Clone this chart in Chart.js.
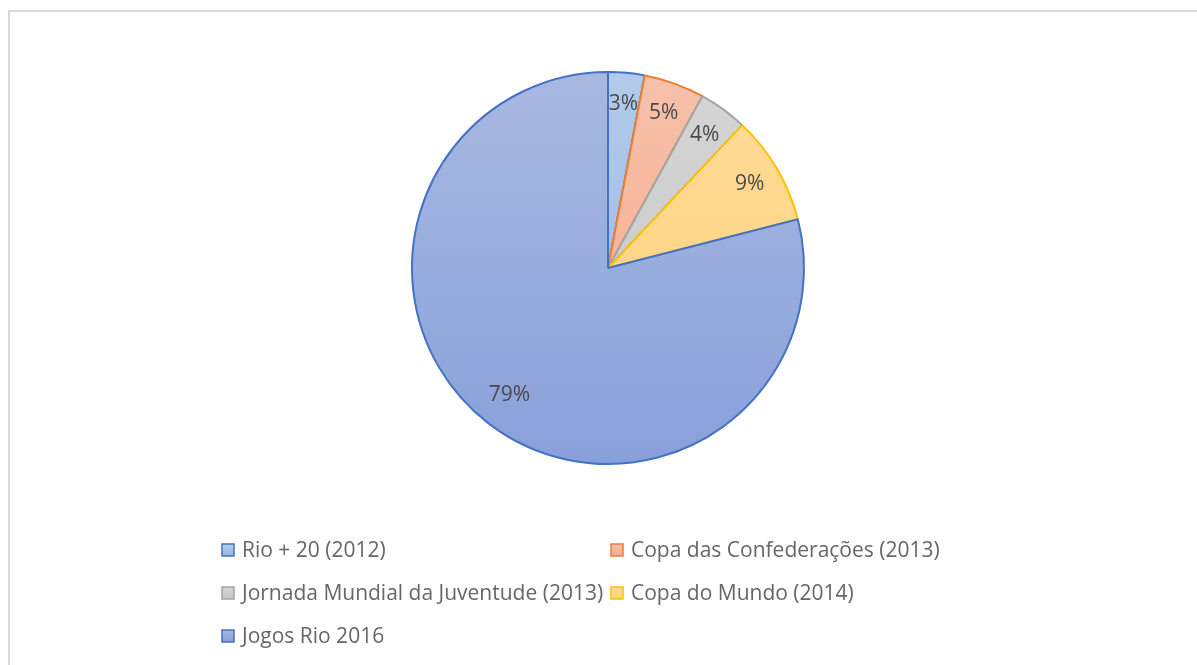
<!DOCTYPE html>
<html>
<head>
<meta charset="utf-8">
<script src="https://cdn.jsdelivr.net/npm/chart.js@4.4.1/dist/chart.umd.min.js"></script>
<style>
	html, body { margin: 0; padding: 0; background: #ffffff; overflow: hidden; }
	#frame { position: absolute; left: 8px; top: 10px; width: 1300px; height: 800px;
		border-top: 2px solid #d9d9d9; border-left: 2px solid #d9d9d9; }
	#wrap { position: absolute; left: 0; top: 0; width: 1197px; height: 665px; }
</style>
</head>
<body>
<div id="frame"></div>
<div id="wrap"><canvas id="mycanvas"></canvas></div>
<script>
var categories = [
	"Rio + 20 (2012)",
	"Copa das Confederações (2013)",
	"Jornada Mundial da Juventude (2013)",
	"Copa do Mundo (2014)",
	"Jogos Rio 2016"
];
var shares = [3, 5, 4, 9, 79];
var shareLabels = ["3%", "5%", "4%", "9%", "79%"];

// fill gradient (top, bottom) and outline per slice
var fillTop = ["#b3cbea", "#f7c1aa", "#d5d5d5", "#ffdb98", "#a9b8e1"];
var fillBottom = ["#93b4e1", "#f2a989", "#c6c6c6", "#ffd179", "#88a0da"];
var outline = ["#4472c4", "#ed7d31", "#a5a5a5", "#ffc000", "#4472c4"];

function sliceFill(context) {
	var chart = context.chart;
	var area = chart.chartArea;
	if (!area) return fillTop[context.dataIndex];
	var g = chart.ctx.createLinearGradient(0, area.top, 0, area.bottom);
	g.addColorStop(0, fillTop[context.dataIndex]);
	g.addColorStop(1, fillBottom[context.dataIndex]);
	return g;
}

var labelPlugin = {
	id: "sliceLabels",
	afterDatasetsDraw: function(chart) {
		var ctx = chart.ctx;
		var meta = chart.getDatasetMeta(0);
		ctx.save();
		ctx.font = "21px 'Open Sans'";
		ctx.fillStyle = "#4a4a4a";
		ctx.textAlign = "center";
		ctx.textBaseline = "middle";
		meta.data.forEach(function(arc, i) {
			var p = arc.getProps(["x", "y", "startAngle", "endAngle", "outerRadius"], true);
			var mid = (p.startAngle + p.endAngle) / 2;
			var r = p.outerRadius * (i == 4 ? 0.82 : 0.84);
			ctx.fillText(shareLabels[i], p.x + Math.cos(mid) * r, p.y + Math.sin(mid) * r);
		});
		ctx.restore();
	}
};

var legendPlugin = {
	id: "gridLegend",
	afterDraw: function(chart) {
		var ctx = chart.ctx;
		var cols = [222, 611];
		var rows = [550, 593, 636];
		ctx.save();
		ctx.font = "21px 'Open Sans'";
		ctx.textBaseline = "middle";
		for (var i = 0; i < categories.length; i++) {
			var x = cols[i % 2];
			var y = rows[Math.floor(i / 2)];
			var g = ctx.createLinearGradient(0, y - 6, 0, y + 6);
			g.addColorStop(0, fillTop[i]);
			g.addColorStop(1, fillBottom[i]);
			ctx.fillStyle = g;
			ctx.fillRect(x, y - 6, 12, 12);
			ctx.strokeStyle = outline[i];
			ctx.lineWidth = 1.5;
			ctx.strokeRect(x, y - 6, 12, 12);
			ctx.fillStyle = "#666666";
			ctx.fillText(categories[i], x + 20, y + 1);
		}
		ctx.restore();
	}
};

var ctx = document.getElementById("mycanvas");

var PieGraph = new Chart(ctx, {
	type: "pie",
	data: {
		labels: categories,
		datasets: [{
			data: shares,
			backgroundColor: sliceFill,
			borderColor: outline,
			borderWidth: 2,
			hoverOffset: 0
		}]
	},
	options: {
		responsive: true,
		maintainAspectRatio: false,
		animation: false,
		layout: { padding: { left: 411, right: 392, top: 71, bottom: 200 } },
		plugins: {
			legend: { display: false },
			tooltip: { enabled: false }
		}
	},
	plugins: [labelPlugin, legendPlugin]
});
</script>
</body>
</html>
